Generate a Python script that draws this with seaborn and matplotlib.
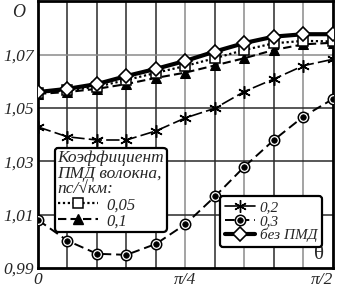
import numpy as np
import pandas as pd
import matplotlib
matplotlib.use("Agg")
import matplotlib.pyplot as plt
import seaborn as sns
from matplotlib.lines import Line2D
from matplotlib.legend_handler import HandlerTuple

# theta in units of pi
theta_frac = [0, 0.05, 0.10, 0.15, 0.20, 0.25, 0.30, 0.35, 0.40, 0.45, 0.50]
q_none = [1.0560, 1.0572, 1.0590, 1.0620, 1.0647, 1.0677, 1.0712, 1.0744, 1.0768, 1.0777, 1.0777]
q_005 = [1.0557, 1.0566, 1.0580, 1.0605, 1.0632, 1.0658, 1.0687, 1.0718, 1.0743, 1.0752, 1.0750]
q_01 = [1.0553, 1.0560, 1.0572, 1.0590, 1.0613, 1.0633, 1.0660, 1.0687, 1.0718, 1.0739, 1.0745]
q_02 = [1.0429, 1.0392, 1.0380, 1.0380, 1.0414, 1.0463, 1.0499, 1.0562, 1.0609, 1.0659, 1.0683]
q_03 = [1.0080, 1.0002, 0.9953, 0.9949, 0.9990, 1.0064, 1.0168, 1.0280, 1.0380, 1.0468, 1.0534]

ytick_vals = [0.99, 1.01, 1.03, 1.05, 1.07]
ytick_labels = ["0,99", "1,01", "1,03", "1,05", "1,07"]
xtick_vals = [0, 0.25, 0.5]
xtick_labels = ["0", "π/4", "π/2"]
legend_title = "Коэффициент\nПМД волокна,\nпс/√км:"
labels = ["0,05", "0,1", "0,2", "0,3", "без ПМД"]

sns.set_style("white")
plt.rcParams["font.family"] = ["Liberation Serif", "DejaVu Serif"]

fig = plt.figure(figsize=(3.39, 2.89), dpi=100)
ax = fig.add_axes([0.112, 0.073, 0.870, 0.922])

x = np.pi * np.array(theta_frac)
df = pd.DataFrame({"x": x, "none": q_none, "q005": q_005, "q01": q_01, "q02": q_02, "q03": q_03})

# grid
for i, k in enumerate(theta_frac[1:-1], start=1):
    ax.axvline(np.pi * k, color="#8a8a8a" if i in (5, 7, 9) else "#2a2a2a", lw=1.1, zorder=0)
for v in ytick_vals[1:]:
    ax.axhline(v, color="#8a8a8a" if v > 1.06 else "#2a2a2a", lw=1.1, zorder=0)

s03 = dict(color="black", lw=1.4, linestyle=(0, (5, 2.5)), marker="o", markersize=7.5,
           markerfacecolor="white", markeredgecolor="black", markeredgewidth=1.1)
sdot = dict(linestyle="none", marker="o", markersize=4, markerfacecolor="black",
            markeredgecolor="black", markeredgewidth=0.5)
s02 = dict(color="black", lw=1.2, linestyle=(0, (8, 2.5)), marker=(6, 2, 0), markersize=9,
           markeredgecolor="black", markeredgewidth=1.1)
s01 = dict(color="black", lw=1.5, linestyle=(0, (4, 2)), marker="^", markersize=6.5,
           markerfacecolor="black", markeredgecolor="black")
s005 = dict(color="black", lw=1.6, linestyle=(0, (1, 1.2)), marker="s", markersize=6.5,
            markerfacecolor="white", markeredgecolor="black", markeredgewidth=1.1)
snone = dict(color="black", lw=3, marker="D", markersize=7.5, markerfacecolor="white",
             markeredgecolor="black", markeredgewidth=1.2)

sns.lineplot(data=df, x="x", y="q03", ax=ax, zorder=3, **s03)
ax.plot(df["x"], df["q03"], zorder=10, **sdot)
sns.lineplot(data=df, x="x", y="q02", ax=ax, zorder=3, **s02)
sns.lineplot(data=df, x="x", y="q01", ax=ax, zorder=3, **s01)
sns.lineplot(data=df, x="x", y="q005", ax=ax, zorder=4, **s005)
sns.lineplot(data=df, x="x", y="none", ax=ax, zorder=5, **snone)

ax.set_xlim(0, np.pi / 2)
ax.set_ylim(0.99, 1.09)
ax.set_xlabel("")
ax.set_ylabel("")
ax.set_xticks([np.pi * v for v in xtick_vals])
ax.set_xticklabels(xtick_labels, fontsize=12.5, fontstyle="italic")
ax.set_yticks(ytick_vals)
ax.set_yticklabels(ytick_labels, fontsize=12.5, fontstyle="italic")
ax.tick_params(axis="both", length=0, pad=3)
ax.get_xticklabels()[-1].set_horizontalalignment("right")
ax.get_xticklabels()[-1].set_x(np.pi / 2 + 0.02)
for sp in ax.spines.values():
    sp.set_linewidth(2)
    sp.set_color("black")

fig.text(0.055, 0.985, "O", fontsize=13, fontstyle="italic", ha="center", va="top")
ax.text(0.97, 0.015, "θ", transform=ax.transAxes, fontsize=15, ha="right", va="bottom")

h005 = Line2D([], [], **s005)
h01 = Line2D([], [], **s01)
h02 = Line2D([], [], color="black", lw=1.2, marker=(6, 2, 0), markersize=9)
h03 = (Line2D([], [], **s03), Line2D([], [], **sdot))
hnone = Line2D([], [], **snone)

title_font = {"family": ["Liberation Serif"], "style": "italic", "size": 12.5}
leg_font = {"family": ["Liberation Serif"], "style": "italic", "size": 12}
leg1 = ax.legend([h005, h01], labels[:2], title=legend_title, loc="upper left",
                 bbox_to_anchor=(0.058, 0.45), borderaxespad=0, prop=leg_font,
                 title_fontproperties=title_font, fancybox=True, framealpha=1,
                 edgecolor="black", handlelength=2.4, handletextpad=0.5,
                 labelspacing=0.0, borderpad=0.15)
leg1._legend_box.align = "left"
leg1.get_title().set_linespacing(0.95)
leg1.get_frame().set_linewidth(1.6)
ax.add_artist(leg1)
leg2_font = {"family": ["Liberation Serif"], "style": "italic", "size": 11}
leg2 = ax.legend([h02, h03, hnone], labels[2:], loc="lower right",
                 bbox_to_anchor=(0.963, 0.08), borderaxespad=0, prop=leg2_font,
                 fancybox=True, framealpha=1, edgecolor="black", handlelength=2.0,
                 handletextpad=0.3, labelspacing=0.0, borderpad=0.3,
                 handler_map={tuple: HandlerTuple(ndivide=1, pad=0)})
leg2.get_frame().set_linewidth(1.6)

fig.savefig("out.png", dpi=100)
